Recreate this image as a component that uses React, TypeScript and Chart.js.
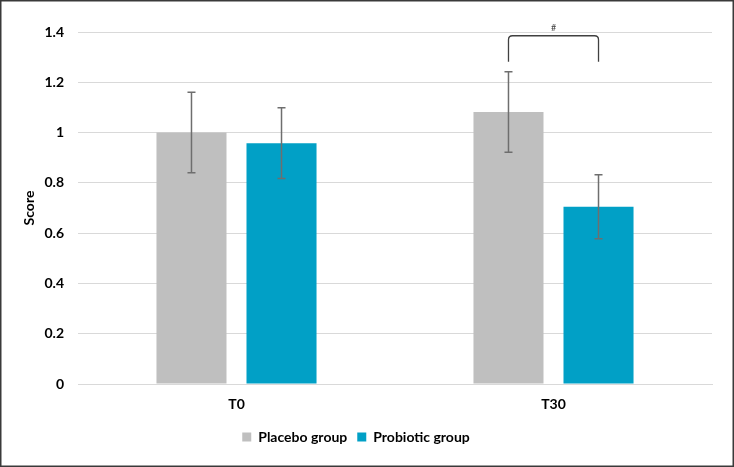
import React, { useEffect, useRef } from "react";
import { Chart, registerables } from "chart.js";

Chart.register(...registerables);

const categories = ["T0", "T30"];
const placeboValues = [1.0, 1.082];
const placeboErrors = [0.16, 0.16];
const probioticValues = [0.958, 0.705];
const probioticErrors = [0.141, 0.127];
const yTicks = [0, 0.2, 0.4, 0.6, 0.8, 1, 1.2, 1.4];
const bracketLabel = "#";
const bracketTop = 1.385;
const bracketBottom = 1.282;
const bracketCategory = 1;

const FONT = "Lato, 'Open Sans', sans-serif";

const errorBarPlugin = {
  id: "errorBars",
  afterDatasetsDraw(chart: any) {
    const ctx = chart.ctx;
    const yScale = chart.scales.y;
    const errs = [placeboErrors, probioticErrors];
    const vals = [placeboValues, probioticValues];
    ctx.save();
    ctx.strokeStyle = "#6e6e6e";
    ctx.lineWidth = 1.5;
    for (let d = 0; d < 2; d++) {
      const meta = chart.getDatasetMeta(d);
      meta.data.forEach((bar: any, j: number) => {
        const x = bar.x;
        const yT = yScale.getPixelForValue(vals[d][j] + errs[d][j]);
        const yB = yScale.getPixelForValue(vals[d][j] - errs[d][j]);
        ctx.beginPath();
        ctx.moveTo(x, yT);
        ctx.lineTo(x, yB);
        ctx.moveTo(x - 4, yT);
        ctx.lineTo(x + 4, yT);
        ctx.moveTo(x - 4, yB);
        ctx.lineTo(x + 4, yB);
        ctx.stroke();
      });
    }
    // bracket
    const x1 = chart.getDatasetMeta(0).data[bracketCategory].x;
    const x2 = chart.getDatasetMeta(1).data[bracketCategory].x;
    const yt = yScale.getPixelForValue(bracketTop);
    const yb = yScale.getPixelForValue(bracketBottom);
    const r = 4;
    ctx.strokeStyle = "#404040";
    ctx.lineWidth = 1.3;
    ctx.beginPath();
    ctx.moveTo(x1, yb);
    ctx.lineTo(x1, yt + r);
    ctx.quadraticCurveTo(x1, yt, x1 + r, yt);
    ctx.lineTo(x2 - r, yt);
    ctx.quadraticCurveTo(x2, yt, x2, yt + r);
    ctx.lineTo(x2, yb);
    ctx.stroke();
    ctx.fillStyle = "#404040";
    ctx.font = "9px " + FONT;
    ctx.textAlign = "center";
    ctx.textBaseline = "middle";
    ctx.fillText(bracketLabel, (x1 + x2) / 2, yt - 8);
    ctx.restore();
  },
};

const framePlugin = {
  id: "frame",
  beforeDraw(chart: any) {
    const ctx = chart.ctx;
    ctx.save();
    ctx.fillStyle = "#ffffff";
    ctx.fillRect(0, 0, chart.width, chart.height);
    ctx.restore();
  },
  afterDraw(chart: any) {
    const ctx = chart.ctx;
    ctx.save();
    ctx.strokeStyle = "#3a3a3a";
    ctx.lineWidth = 1.5;
    ctx.strokeRect(0.75, 0.75, chart.width - 1.5, chart.height - 1.5);
    ctx.restore();
  },
};

export default function App() {
  const ref = useRef<HTMLCanvasElement>(null);
  useEffect(() => {
    document.body.style.margin = "0";
    const chart = new Chart(ref.current as HTMLCanvasElement, {
      type: "bar",
      data: {
        labels: categories,
        datasets: [
          {
            label: "Placebo group",
            data: placeboValues,
            backgroundColor: "#bfbfbf",
            borderWidth: 0,
          },
          {
            label: "Probiotic group",
            data: probioticValues,
            backgroundColor: "#01a0c6",
            borderWidth: 0,
          },
        ],
      },
      options: {
        animation: false,
        responsive: true,
        maintainAspectRatio: false,
        layout: { padding: { top: 32, right: 22, bottom: 13, left: 0 } },
        datasets: { bar: { categoryPercentage: 0.568, barPercentage: 0.778 } },
        plugins: {
          legend: {
            position: "bottom",
            labels: {
              boxWidth: 9,
              boxHeight: 9,
              padding: 10,
              color: "#000",
              font: { family: FONT, size: 14, weight: "bold" },
            },
          },
          tooltip: { enabled: false },
        },
        scales: {
          x: {
            grid: { display: false, drawTicks: false },
            border: { display: true, color: "#d9d9d9", width: 1 },
            ticks: {
              color: "#000",
              padding: 12,
              font: { family: FONT, size: 14, weight: "bold" },
            },
            afterFit: (s: any) => {
              s.height = 36;
            },
          },
          y: {
            min: 0,
            max: 1.4,
            afterBuildTicks: (s: any) => {
              s.ticks = yTicks.map((v) => ({ value: v }));
            },
            grid: { color: "#d9d9d9", lineWidth: 1, drawTicks: false },
            border: { display: false },
            ticks: {
              color: "#000",
              padding: 14,
              font: { family: FONT, size: 14, weight: "bold" },
              callback: (v: any) => String(Math.round(Number(v) * 10) / 10),
            },
            title: {
              display: true,
              text: "Score",
              color: "#000",
              padding: { top: 21, bottom: 0 },
              font: { family: FONT, size: 14, weight: "bold" },
            },
            afterFit: (s: any) => {
              s.width = 78;
            },
          },
        },
      },
      plugins: [errorBarPlugin, framePlugin],
    });
    return () => chart.destroy();
  }, []);
  return (
    <div style={{ width: 734, height: 467, position: "relative" }}>
      <canvas ref={ref} />
    </div>
  );
}
